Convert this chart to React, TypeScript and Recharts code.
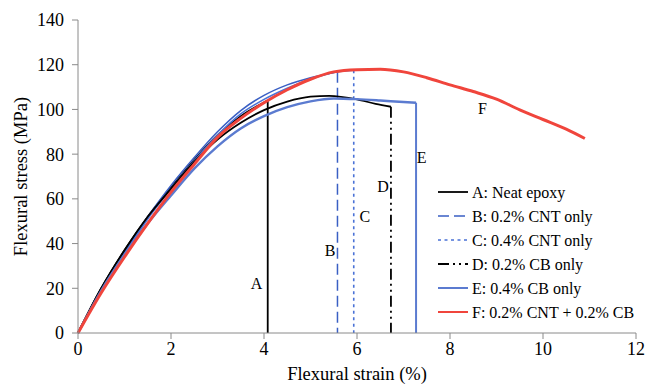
import React from 'react';
import { LineChart, Line, XAxis, YAxis, Legend, ReferenceDot } from 'recharts';

const FONT = 'Liberation Serif';

// [strain %, stress MPa]; last point is where the specimen breaks
const neatEpoxy: [number, number][] = [
  [0, 0], [0.5, 20], [1, 37], [1.5, 52], [2, 65], [2.5, 77.5], [3, 88.5], [3.5, 97], [4.08, 104],
];
const cnt02: [number, number][] = [
  [0, 0], [0.5, 19], [1, 36], [1.5, 52], [2, 66], [2.5, 78.5], [3, 90], [3.5, 99.5], [4, 106.3],
  [4.5, 111], [5, 114.2], [5.58, 116.8],
];
const cnt04: [number, number][] = [
  [0, 0], [0.5, 18.5], [1, 35], [1.5, 51], [2, 64.5], [2.5, 77], [3, 88.5], [3.5, 98], [4, 104.5],
  [4.5, 109.5], [5, 113.5], [5.5, 116.5], [5.93, 117.5],
];
const cb02: [number, number][] = [
  [0, 0], [0.5, 20], [1, 37], [1.5, 52], [2, 64.5], [2.5, 76.5], [3, 86.5], [3.5, 94], [4, 99.7],
  [4.5, 103.5], [5, 105.7], [5.4, 106.1], [6, 104.5], [6.4, 102.5], [6.73, 101.2],
];
const cb04: [number, number][] = [
  [0, 0], [0.5, 19], [1, 35], [1.5, 49], [2, 61.5], [2.5, 73.5], [3, 83.5], [3.5, 91.5], [4, 97],
  [4.5, 101], [5, 103.6], [5.5, 104.9], [6, 104.6], [6.5, 104], [7, 103.3], [7.27, 103],
];
const hybrid: [number, number][] = [
  [0, 0], [0.5, 18], [1, 34], [1.5, 49], [2, 63], [2.5, 75.5], [3, 87.5], [3.5, 96], [4, 103],
  [4.5, 108.8], [5, 113.5], [5.5, 116.8], [6, 117.8], [6.5, 118], [7, 116.8], [7.5, 114.2],
  [8, 111], [8.5, 108], [9, 104.6], [9.5, 99.8], [10, 95.5], [10.5, 91.2], [10.9, 87],
];

const seriesNames = [
  'A: Neat epoxy',
  'B: 0.2% CNT only',
  'C: 0.4% CNT only',
  'D: 0.2% CB only',
  'E: 0.4% CB only',
  'F: 0.2% CNT + 0.2% CB',
];
const seriesData = [neatEpoxy, cnt02, cnt04, cb02, cb04, hybrid];
// F never snaps within the test range, so it has no drop line
const breaks = [true, true, true, true, true, false];

// curve letters placed beside the break lines (strain, stress)
const letterTags: [string, number, number][] = [
  ['A', 3.84, 22], ['B', 5.42, 37], ['C', 6.17, 52.3], ['D', 6.56, 65.4], ['E', 7.39, 78.8], ['F', 8.7, 100.5],
];

const styles = [
  { color: '#000000', width: 1.8, dash: undefined as string | undefined },
  { color: '#3a5fc4', width: 1.5, dash: '11 5' },
  { color: '#4a72d6', width: 1.6, dash: '3 3.5' },
  { color: '#000000', width: 1.8, dash: '11 4 2 4 2 4' },
  { color: '#5b7bd0', width: 2.4, dash: undefined },
  { color: '#f0453c', width: 3, dash: undefined },
];

const toPts = (arr: [number, number][]) => arr.map(([x, y]) => ({ x, y }));
const dropOf = (arr: [number, number][]) => {
  const [x, y] = arr[arr.length - 1];
  return [{ x, y }, { x, y: 0 }];
};

const LegendBox = () => (
  <svg width={212} height={146} style={{ display: 'block', fontFamily: FONT }}>
    {seriesNames.map((name, i) => {
      const cy = 12 + i * 24;
      const s = styles[i];
      return (
        <g key={name}>
          <line x1={2} x2={32} y1={cy} y2={cy} stroke={s.color} strokeWidth={Math.min(s.width, 2)} strokeDasharray={s.dash} />
          <text x={36} y={cy} dominantBaseline="central" fontFamily={FONT} fontSize={16} fill="#000">
            {name}
          </text>
        </g>
      );
    })}
  </svg>
);

export default function App() {
  const axisColor = '#8a8a8a';
  return (
    <div style={{ position: 'absolute', left: 0, top: 0, background: '#fff', fontFamily: FONT }}>
      <LineChart width={648} height={384} margin={{ top: 20, right: 12, bottom: 6, left: 0 }} style={{ fontFamily: FONT }}>
        <XAxis
          type="number"
          dataKey="x"
          domain={[0, 12]}
          ticks={[0, 2, 4, 6, 8, 10, 12]}
          height={45}
          stroke={axisColor}
          tickSize={6}
          tickMargin={3}
          tick={{ fill: '#000', fontSize: 18, fontFamily: FONT }}
          label={{ value: 'Flexural strain (%)', position: 'insideBottom', offset: -2, fill: '#000', fontSize: 18.5, fontFamily: FONT }}
        />
        <YAxis
          type="number"
          dataKey="y"
          domain={[0, 140]}
          ticks={[0, 20, 40, 60, 80, 100, 120, 140]}
          width={78}
          stroke={axisColor}
          tickSize={6}
          tickMargin={8}
          tick={{ fill: '#000', fontSize: 18, fontFamily: FONT }}
          label={{ value: 'Flexural stress (MPa)', angle: -90, position: 'center', dx: -19, fill: '#000', fontSize: 18.5, fontFamily: FONT }}
        />
        {seriesData.map((arr, i) =>
          breaks[i] ? (
            <Line
              key={`drop-${i}`}
              data={dropOf(arr)}
              dataKey="y"
              type="linear"
              stroke={styles[i].color}
              strokeWidth={Math.min(styles[i].width, 2)}
              strokeDasharray={styles[i].dash}
              dot={false}
              legendType="none"
              isAnimationActive={false}
            />
          ) : null
        )}
        {seriesData.map((arr, i) => (
          <Line
            key={`curve-${i}`}
            data={toPts(arr)}
            dataKey="y"
            name={seriesNames[i]}
            type="monotone"
            stroke={styles[i].color}
            strokeWidth={styles[i].width}
            dot={false}
            isAnimationActive={false}
          />
        ))}
        {letterTags.map(([t, x, y]) => (
          <ReferenceDot
            key={t}
            x={x}
            y={y}
            r={1}
            fill="none"
            stroke="none"
            label={{ value: t, position: 'center', fill: '#000', fontSize: 16, fontFamily: FONT }}
          />
        ))}
        <Legend
          layout="vertical"
          align="center"
          verticalAlign="middle"
          wrapperStyle={{ left: 436, top: 180, width: 'auto' }}
          content={() => <LegendBox />}
        />
      </LineChart>
    </div>
  );
}
